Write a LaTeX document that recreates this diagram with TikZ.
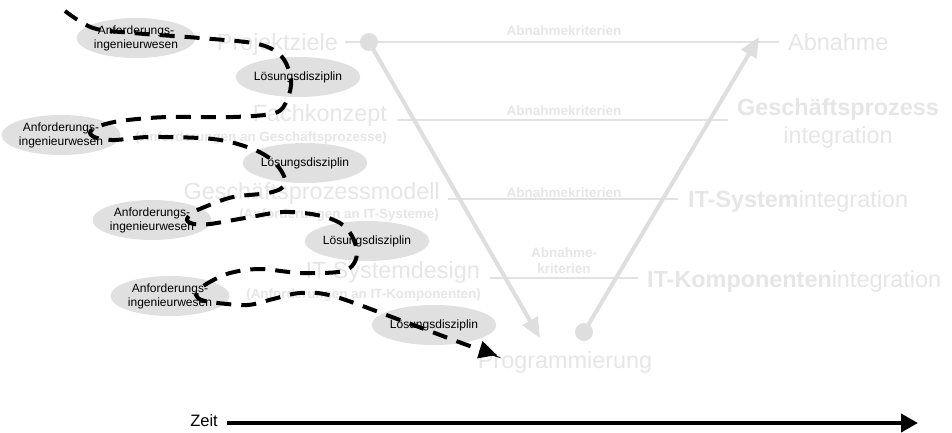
\documentclass[tikz,border=0pt]{standalone}
\usepackage{fontspec}
\setmainfont{Liberation Sans}
\usetikzlibrary{arrows.meta,shapes.geometric}
\definecolor{vtext}{RGB}{230,230,230}
\definecolor{vline}{RGB}{222,222,222}
\definecolor{hgrey}{RGB}{226,226,226}
\definecolor{ellfill}{RGB}{224,224,224}
\begin{document}
\begin{tikzpicture}[x=1pt,y=-1pt,
 big/.style={font=\fontsize{23.4}{26}\selectfont, text=vtext, inner sep=0pt},
 sub/.style={font=\fontsize{13.4}{15}\selectfont\bfseries, text=vtext, inner sep=0pt},
 crit/.style={font=\fontsize{13.5}{16}\selectfont\bfseries, text=vtext, inner sep=0pt},
 hline/.style={draw=hgrey, line width=1.3pt},
 arm/.style={draw=vline, line width=4pt, -{Triangle[length=20pt,width=17pt]}},
 vdot/.style={circle, fill=vline, minimum size=18pt, inner sep=0pt},
 ell/.style={ellipse, fill=ellfill, minimum width=114pt, minimum height=40pt, inner sep=0pt, align=center, font=\fontsize{12}{14}\selectfont},
 flow/.style={line width=4pt, dash pattern=on 15pt off 10pt, -{Triangle[length=18pt,width=17pt]}},
]
\fill[white] (0,0) rectangle (952,432);
\useasboundingbox (0,0) rectangle (952,432);

% horizontal lines
\coordinate (l1a) at (345,42); \coordinate (l1b) at (779,42);
\coordinate (l2a) at (397,120); \coordinate (l2b) at (728,120);
\coordinate (l3a) at (448,199); \coordinate (l3b) at (678,199);
\coordinate (l4a) at (490,278); \coordinate (l4b) at (638,278);
\draw[hline] (l1a) -- (l1b);
\draw[hline] (l2a) -- (l2b);
\draw[hline] (l3a) -- (l3b);
\draw[hline] (l4a) -- (l4b);

% V
\node[vdot] (top) at (369,42) {};
\node[vdot] (bot) at (584,332) {};
\coordinate (tipL) at (540,338);
\coordinate (tipR) at (759,37);
\draw[arm] (top.center) -- (tipL);
\draw[arm] (bot.center) -- (tipR);

% left texts
\node[big, anchor=base east] (pz) at (338,50) {Projektziele};
\node[big, anchor=base east] (fk) at (387,121) {Fachkonzept};
\node[sub, anchor=base east] (fks) at (387,141) {(Anforderungen an Geschäftsprozesse)};
\node[big, anchor=base east] (gpm) at (440,199) {Geschäftsprozessmodell};
\node[sub, anchor=base east] (gpms) at (439,218) {(Anforderungen an IT-Systeme)};
\node[big, anchor=base east] (isd) at (480,278) {IT-Systemdesign};
\node[sub, anchor=base east] (isds) at (481,298) {(Anforderungen an IT-Komponenten)};
\node[big, anchor=base] (prog) at (565,368) {Programmierung};

% criteria
\node[crit, anchor=base] (k1) at (564,35) {Abnahmekriterien};
\node[crit, anchor=base] (k2) at (564,115) {Abnahmekriterien};
\node[crit, anchor=base] (k3) at (564,197) {Abnahmekriterien};
\node[crit, anchor=base] (k4a) at (564,257) {Abnahme-};
\node[crit, anchor=base] (k4b) at (564,273) {kriterien};

% right texts
\node[big, anchor=base west] (abn) at (788,50) {Abnahme};
\node[big, anchor=base, font=\fontsize{23.4}{26}\selectfont\bfseries] (gp) at (838,115) {Geschäftsprozess};
\node[big, anchor=base] (gpi) at (838,143) {integration};
\node[big, anchor=base west] (isi) at (688,207) {\textbf{IT-System}integration};
\node[big, anchor=base west] (iki) at (647,287) {\textbf{IT-Komponenten}integration};

% ellipses
\node[ell] (a1) at (136,38) {Anforderungs-\\ingenieurwesen};
\node[ell] (s1) at (298,77) {Lösungsdisziplin};
\node[ell] (a2) at (61,135) {Anforderungs-\\ingenieurwesen};
\node[ell] (s2) at (305,163) {Lösungsdisziplin};
\node[ell] (a3) at (152,220) {Anforderungs-\\ingenieurwesen};
\node[ell] (s3) at (367,241) {Lösungsdisziplin};
\node[ell] (a4) at (170,296) {Anforderungs-\\ingenieurwesen};
\node[ell] (s4) at (434,325) {Lösungsdisziplin};

% flow path
\draw[flow] plot[smooth, tension=0.55] coordinates {
 (65,11) (93,28) (133,33) (200,38) (258,44) (282,57) (291,80) (287,100) (275,113)
 (233,117) (167,117) (120,121) (97,127) (90,133) (97,138) (115,140) (150,137)
 (213,139) (250,148) (272,160) (284,176) (283,187) (268,193) (233,197) (207,206)
 (192,213) (187,220) (194,224) (210,224) (245,218) (283,212) (317,215) (340,223)
 (352,236) (357,253) (352,266) (338,272) (300,273) (260,269) (230,273) (208,283)
 (197,292) (198,298) (210,302) (247,305) (273,299) (300,293) (333,296) (400,320)
 (467,345) (497,355)};

% time axis
\node[anchor=base east, inner sep=0pt, font=\fontsize{16.5}{19}\selectfont] (zeit) at (218,426) {Zeit};
\coordinate (t0) at (227,423);
\coordinate (t1) at (918,423);
\draw[line width=4pt, -{Triangle[length=17pt,width=18pt]}] (t0) -- (t1);
\end{tikzpicture}
\end{document}
